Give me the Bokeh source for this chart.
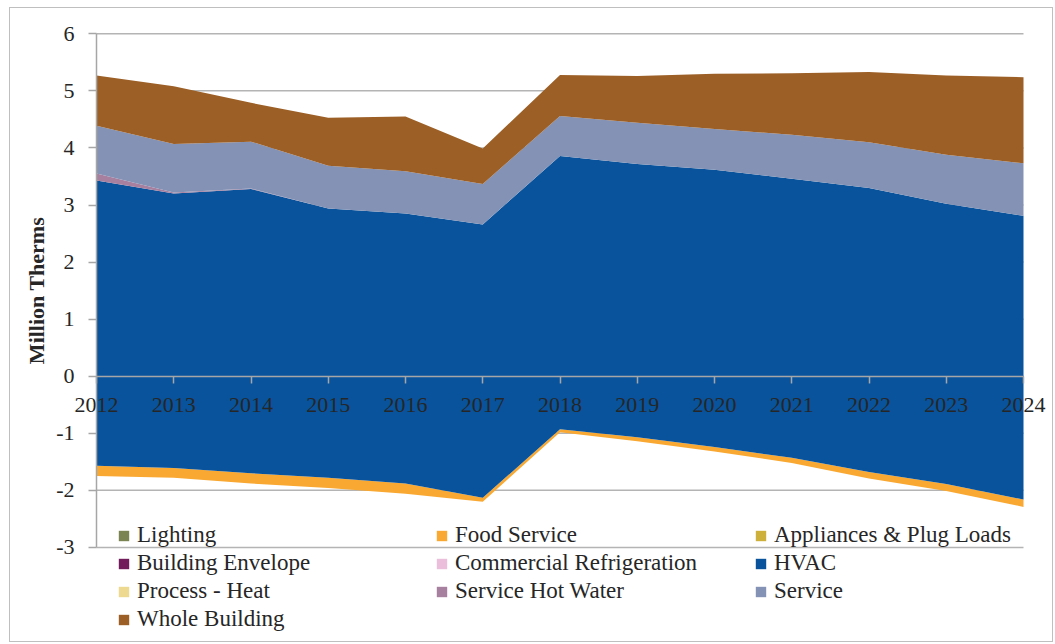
import numpy as np
from bokeh.plotting import figure
from bokeh.models import Legend, LegendItem, FixedTicker, Range1d
from bokeh.embed import file_html
from bokeh.resources import INLINE

years = [2012, 2013, 2014, 2015, 2016, 2017, 2018, 2019, 2020, 2021, 2022, 2023, 2024]
year_labels = [str(y) for y in years]
y_ticks = [-3, -2, -1, 0, 1, 2, 3, 4, 5, 6]
y_labels = ["-3", "-2", "-1", "0", "1", "2", "3", "4", "5", "6"]

# Million therms by end use
lighting = [0, 0, 0, 0, 0, 0, 0, 0, 0, 0, 0, 0, 0]
food_service = [-0.18, -0.17, -0.18, -0.18, -0.18, -0.07, -0.05, -0.07, -0.08, -0.09, -0.11, -0.12, -0.13]
appliances = [0, 0, 0, 0, 0, 0, 0, 0, 0, 0, 0, 0, 0]
building_envelope = [0, 0, 0, 0, 0, 0, 0, 0, 0, 0, 0, 0, 0]
commercial_refrigeration = [0, 0, 0, 0, 0, 0, 0, 0, 0, 0, 0, 0, 0]
hvac_savings = [3.43, 3.20, 3.28, 2.94, 2.85, 2.66, 3.86, 3.72, 3.62, 3.46, 3.30, 3.02, 2.81]
hvac_negative = [-1.57, -1.61, -1.70, -1.78, -1.88, -2.13, -0.93, -1.07, -1.24, -1.43, -1.68, -1.89, -2.16]
process_heat = [0, 0, 0, 0, 0, 0, 0, 0, 0, 0, 0, 0, 0]
service_hot_water = [0.12, 0.02, 0.01, 0, 0, 0, 0, 0, 0, 0, 0, 0, 0]
service = [0.84, 0.85, 0.82, 0.75, 0.74, 0.71, 0.70, 0.72, 0.71, 0.77, 0.80, 0.86, 0.92]
whole_building = [0.88, 1.01, 0.68, 0.84, 0.96, 0.62, 0.72, 0.82, 0.97, 1.08, 1.23, 1.39, 1.51]

colors = {
    "Lighting": "#7A8352",
    "Food Service": "#F9A832",
    "Appliances & Plug Loads": "#CDB03C",
    "Building Envelope": "#731C5C",
    "Commercial Refrigeration": "#EBBFDB",
    "HVAC": "#08539C",
    "Process - Heat": "#EDD990",
    "Service Hot Water": "#A77F9F",
    "Service": "#8492B5",
    "Whole Building": "#9C5F26",
}

FONT = "Liberation Serif"
GRAY = "#B4B4B4"
AXC = "#A6A6A6"
TXT = "#262626"

W, H = 1044, 635
PX_X, PX_Y = 77.25, 57.07      # pixels per year / per million therms
LEFT, TOP = 86, 25.3           # plot-area offset inside canvas

x0 = years[0] - LEFT / PX_X
x1 = years[0] + (W - LEFT) / PX_X
ytop = y_ticks[-1] + TOP / PX_Y
ybot = y_ticks[-1] - (H - TOP) / PX_Y

p = figure(width=W, height=H, output_backend="svg", toolbar_location=None,
           x_range=Range1d(x0, x1), y_range=Range1d(ybot, ytop),
           min_border_left=0, min_border_right=0, min_border_top=0, min_border_bottom=0)
p.styles = {"border": "1px solid #BFBFBF", "margin-left": "9px", "margin-top": "7px"}
p.outline_line_color = None
p.background_fill_color = "white"
p.xgrid.visible = False
p.ygrid.visible = False

# horizontal gridlines across the plot area only
p.segment(x0=[years[0]] * len(y_ticks), x1=[years[-1]] * len(y_ticks),
          y0=y_ticks, y1=y_ticks, line_color=GRAY, line_width=1.5)

x = np.array(years, dtype=float)
z = np.zeros(len(years))

neg1 = np.array(hvac_negative)
neg2 = neg1 + np.array(food_service)
pos_h = np.array(hvac_savings)
pos_cr = pos_h + np.array(commercial_refrigeration)
pos_ph = pos_cr + np.array(process_heat)
pos_shw = pos_ph + np.array(service_hot_water)
pos_sv = pos_shw + np.array(service)
pos_wb = pos_sv + np.array(whole_building)

r = {}
r["Lighting"] = p.varea(x=x, y1=z, y2=np.array(lighting), fill_color=colors["Lighting"])
r["Food Service"] = p.varea(x=x, y1=neg1, y2=neg2, fill_color=colors["Food Service"])
r["Appliances & Plug Loads"] = p.varea(x=x, y1=z, y2=np.array(appliances), fill_color=colors["Appliances & Plug Loads"])
r["Building Envelope"] = p.varea(x=x, y1=z, y2=np.array(building_envelope), fill_color=colors["Building Envelope"])
r["HVAC"] = p.varea(x=x, y1=neg1, y2=pos_h, fill_color=colors["HVAC"])
r["Commercial Refrigeration"] = p.varea(x=x, y1=pos_h, y2=pos_cr, fill_color=colors["Commercial Refrigeration"])
r["Process - Heat"] = p.varea(x=x, y1=pos_cr, y2=pos_ph, fill_color=colors["Process - Heat"])
r["Service Hot Water"] = p.varea(x=x, y1=pos_ph, y2=pos_shw, fill_color=colors["Service Hot Water"])
r["Service"] = p.varea(x=x, y1=pos_shw, y2=pos_sv, fill_color=colors["Service"])
r["Whole Building"] = p.varea(x=x, y1=pos_sv, y2=pos_wb, fill_color=colors["Whole Building"])

# axes: x axis crosses at 0, y axis at first year
p.xaxis.fixed_location = 0
p.xaxis.bounds = (years[0], years[-1])
p.xaxis.ticker = FixedTicker(ticks=years)
p.xaxis.major_label_overrides = {y: s for y, s in zip(years, year_labels)}
p.yaxis.fixed_location = years[0]
p.yaxis.bounds = (y_ticks[0], y_ticks[-1])
p.yaxis.ticker = FixedTicker(ticks=y_ticks)
p.yaxis.major_label_overrides = {t: s for t, s in zip(y_ticks, y_labels)}
for ax in (p.xaxis[0], p.yaxis[0]):
    ax.axis_line_color = AXC
    ax.axis_line_width = 1.5
    ax.major_tick_line_color = AXC
    ax.major_tick_line_width = 1.5
    ax.major_tick_in = 0
    ax.minor_tick_line_color = None
    ax.major_label_text_font = FONT
    ax.major_label_text_font_size = "22px"
    ax.major_label_text_color = TXT
p.xaxis.major_tick_out = 7
p.xaxis.major_label_standoff = 15
p.yaxis.major_tick_out = 8
p.yaxis.major_label_standoff = 14
p.yaxis.axis_label = "Million Therms"
p.yaxis.axis_label_text_font = FONT
p.yaxis.axis_label_text_font_size = "22px"
p.yaxis.axis_label_text_font_style = "bold"
p.yaxis.axis_label_text_color = TXT
p.yaxis.axis_label_standoff = 4

columns = [
    ["Lighting", "Building Envelope", "Process - Heat", "Whole Building"],
    ["Food Service", "Commercial Refrigeration", "Service Hot Water"],
    ["Appliances & Plug Loads", "HVAC", "Service"],
]
col_x = [107, 425, 744]
LH, SP, LEG_TOP = 26, 2, 514
for names, cx in zip(columns, col_x):
    n = len(names)
    bottom = LEG_TOP + n * LH + (n - 1) * SP
    lg = Legend(items=[LegendItem(label=nm, renderers=[r[nm]]) for nm in names],
                location=(cx, H - bottom), orientation="vertical")
    lg.label_text_font = FONT
    lg.label_text_font_size = "23px"
    lg.label_text_color = TXT
    lg.glyph_width = 13
    lg.glyph_height = 13
    lg.label_standoff = 7
    lg.label_height = LH
    lg.spacing = SP
    lg.padding = 0
    lg.margin = 0
    lg.background_fill_alpha = 0
    lg.border_line_alpha = 0
    p.add_layout(lg, "center")

open("out.html", "w").write(file_html(p, INLINE))
